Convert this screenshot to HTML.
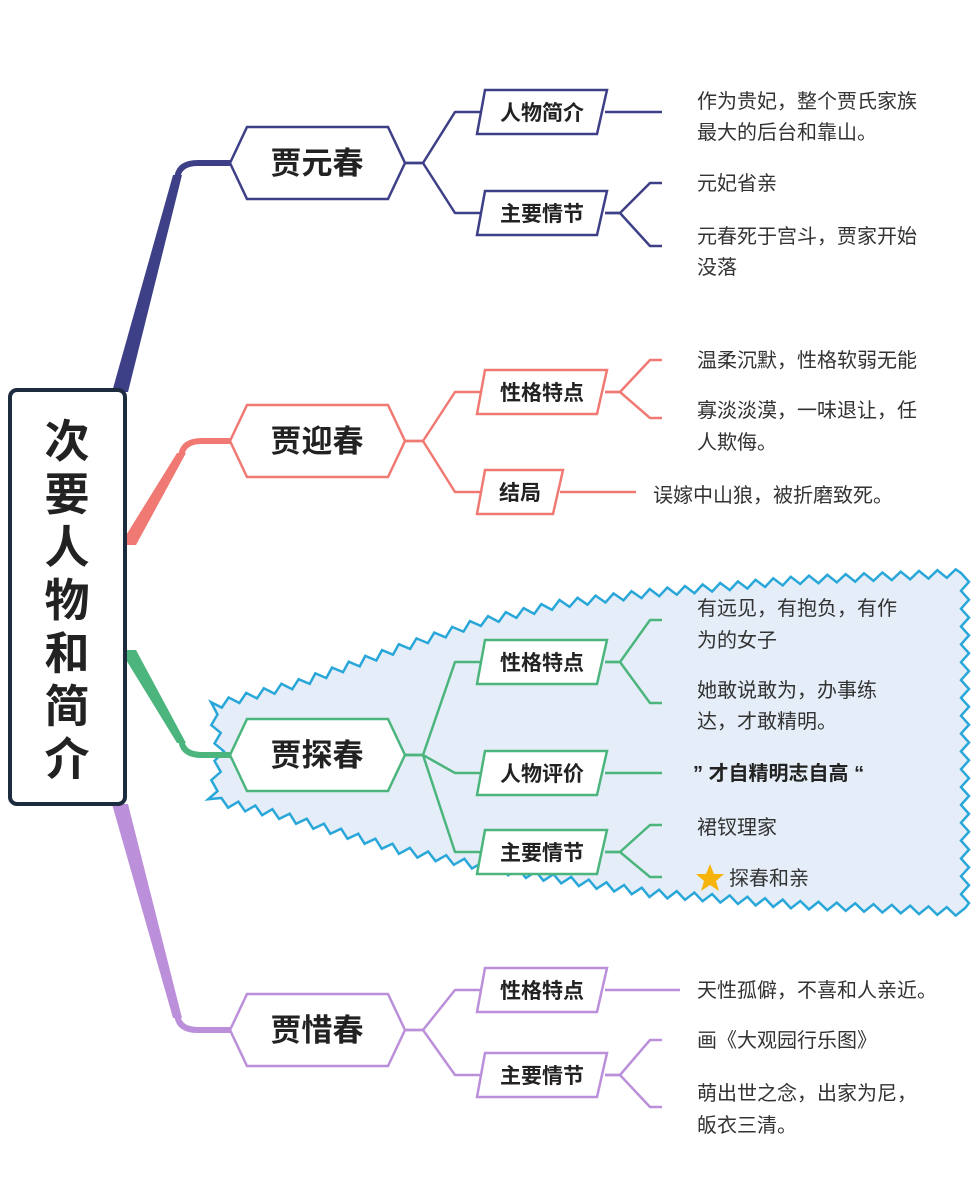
<!DOCTYPE html>
<html><head><meta charset="utf-8">
<style>
html,body{margin:0;padding:0;background:#fff;}
svg{display:block;}
text{font-family:"Liberation Sans","Noto Sans CJK SC",sans-serif;}
.leaf{font-size:20px;fill:#333;}
.sub{font-size:21px;font-weight:bold;fill:#222;}
.main{font-size:31px;font-weight:bold;fill:#222;}
.root{font-size:45px;font-weight:bold;fill:#222;}
</style></head>
<body>
<svg id="s" width="980" height="1200" viewBox="0 0 980 1200" xmlns="http://www.w3.org/2000/svg">
<path id="cloud" fill="#e5eef8" stroke="#2aa7d9" stroke-width="2.5" d=""/>
<g id="g"></g>
<rect x="10" y="390" width="115" height="414" rx="7" fill="#fff" stroke="#1d2b3e" stroke-width="4"/>
<g class="root" text-anchor="middle">
<text x="67" y="457">次</text><text x="67" y="510">要</text><text x="67" y="563">人</text><text x="67" y="616">物</text><text x="67" y="669">和</text><text x="67" y="722">简</text><text x="67" y="775">介</text>
</g>
</svg>
<script>
var NS="http://www.w3.org/2000/svg",g=document.getElementById('g');
function el(t,a,txt){var e=document.createElementNS(NS,t);for(var k in a)e.setAttribute(k,a[k]);if(txt)e.textContent=txt;g.appendChild(e);return e;}
function zig(pts){var d="",amp=4,step=9,k=0;for(var i=0;i<pts.length-1;i++){var a=pts[i],b=pts[i+1];var dx=b[0]-a[0],dy=b[1]-a[1],L=Math.hypot(dx,dy),n=Math.max(1,Math.round(L/step));var nx=-dy/L,ny=dx/L;for(var j=0;j<n;j++){var t=j/n,s=(k++%2?amp:-amp);var x=a[0]+dx*t+nx*s,y=a[1]+dy*t+ny*s;d+=(d?"L":"M")+x.toFixed(1)+","+y.toFixed(1);}}return d+"Z";}
document.getElementById('cloud').setAttribute('d',zig([[212,706],[300,683],[400,648],[480,622],[560,604],[650,593],[800,580],[965,573],[965,912],[800,905],[650,893],[500,870],[400,850],[280,815],[212,800],[220,752],[212,706]]));
function branch(ax,ay,bx,by,col){
 var up=by<ay, s=up?1:-1;
 el('path',{d:"M"+(ax-8)+","+ay+" L"+(ax+8)+","+ay+" L"+(bx+4)+","+(by+s*12)+" L"+(bx-5)+","+(by+s*12)+"Z",fill:col});
 el('path',{d:"M"+(bx-0.5)+","+(by+s*13)+" Q"+(bx+2)+","+by+" "+(bx+20)+","+by+" H233",fill:"none",stroke:col,"stroke-width":6,"stroke-linecap":"butt"});
}
branch(120,392,178,163,"#3e4087");
branch(128,545,182,441,"#f07a73");
branch(128,650,182,755,"#4cb57d");
branch(120,804,178,1030,"#bb8fd9");
function hex(cy,col,label){
 var x=230;el('path',{d:"M"+x+","+cy+" L"+(x+17)+","+(cy-36)+" L"+(x+158)+","+(cy-36)+" L"+(x+175)+","+cy+" L"+(x+158)+","+(cy+36)+" L"+(x+17)+","+(cy+36)+"Z",fill:"#fff",stroke:col,"stroke-width":2.5});
 el('text',{x:317,y:cy+11,"text-anchor":"middle","class":"main"},label);
}
function sub(cy,col,label,w){
 w=w||130;var x=477;el('path',{d:"M"+(x+8)+","+(cy-22)+" L"+(x+w)+","+(cy-22)+" L"+(x+w-10)+","+(cy+22)+" L"+x+","+(cy+22)+"Z",fill:"#fff",stroke:col,"stroke-width":2.5});
 el('text',{x:x+w/2,y:cy+8,"text-anchor":"middle","class":"sub"},label);
}
function conn(hy,sys,col){
 sys.forEach(function(sy){el('path',{d:"M404,"+hy+" H423 L455,"+sy+" H480",fill:"none",stroke:col,"stroke-width":2.5,"stroke-linejoin":"round"});});
}
function leaves(sy,lys,col,xr,xe){
 xr=xr||605;xe=xe||662;
 if(lys.length==1&&lys[0]==sy){el('path',{d:"M"+xr+","+sy+" H"+xe,fill:"none",stroke:col,"stroke-width":2.5});return;}
 lys.forEach(function(ly){el('path',{d:"M"+xr+","+sy+" H620 L650,"+ly+" H"+xe,fill:"none",stroke:col,"stroke-width":2.5,"stroke-linejoin":"round"});});
}
function t(x,y,s,cls){el('text',{x:x,y:y,"class":cls||"leaf"},s);}
var c="#3e4087";
conn(163,[112,213],c);hex(163,c,"贾元春");sub(112,c,"人物简介");sub(213,c,"主要情节");
leaves(112,[112],c);leaves(213,[183,246],c);
t(697,108,"作为贵妃，整个贾氏家族");t(697,139,"最大的后台和靠山。");t(697,190,"元妃省亲");t(697,243,"元春死于宫斗，贾家开始");t(697,274,"没落");
c="#f07a73";
conn(441,[392,492],c);hex(441,c,"贾迎春");sub(392,c,"性格特点");sub(492,c,"结局",86);
leaves(392,[360,418],c);leaves(492,[492],c,560,636);
t(697,367,"温柔沉默，性格软弱无能");t(697,417,"寡淡淡漠，一味退让，任");t(697,449,"人欺侮。");t(653,502,"误嫁中山狼，被折磨致死。");
c="#4cb57d";
conn(755,[662,773,852],c);hex(755,c,"贾探春");sub(662,c,"性格特点");sub(773,c,"人物评价");sub(852,c,"主要情节");
leaves(662,[620,703],c);leaves(773,[773],c);leaves(852,[825,877],c);
t(697,615,"有远见，有抱负，有作");t(697,647,"为的女子");t(697,697,"她敢说敢为，办事练");t(697,728,"达，才敢精明。");
t(693,780,"” 才自精明志自高 “","leaf");g.lastChild.setAttribute('font-weight','bold');g.lastChild.style.fill="#222";
t(697,834,"裙钗理家");t(729,885,"探春和亲");
el('polygon',{points:"710,864 714,874 724,874 716,881 719,891 710,885 701,891 704,881 696,874 706,874",fill:"#f6b40a"});
c="#bb8fd9";
conn(1030,[990,1075],c);hex(1030,c,"贾惜春");sub(990,c,"性格特点");sub(1075,c,"主要情节");
leaves(990,[990],c,605,680);leaves(1075,[1040,1107],c);
t(697,997,"天性孤僻，不喜和人亲近。");t(697,1047,"画《大观园行乐图》");t(697,1100,"萌出世之念，出家为尼，");t(697,1132,"皈衣三清。");
</script>
</body></html>
